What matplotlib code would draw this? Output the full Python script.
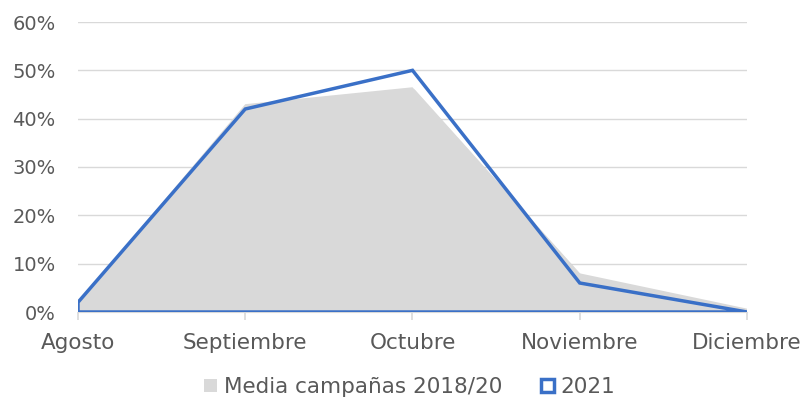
import matplotlib
matplotlib.use("Agg")
import matplotlib.pyplot as plt
from matplotlib.patches import Patch
import matplotlib.patheffects as pe

categories = ["Agosto", "Septiembre", "Octubre", "Noviembre", "Diciembre"]
media = [0.02, 0.43, 0.465, 0.08, 0.007]
y2021 = [0.02, 0.42, 0.50, 0.06, 0.0]
yticks = [0, 0.1, 0.2, 0.3, 0.4, 0.5, 0.6]

plt.rcParams['font.family'] = ['DejaVu Sans']
txt = '#595959'
fig = plt.figure(figsize=(8.03, 4.01), dpi=100)
ax = fig.add_axes([78/803, 1-312/401, (747-78)/803, (312-22)/401])

x = list(range(len(categories)))
ax.fill_between(x, media, 0, facecolor='#d9d9d9', edgecolor='none', zorder=2,
                path_effects=[pe.SimplePatchShadow(offset=(1.5, -1.5), shadow_rgbFace='#bfbfbf', alpha=0.5), pe.Normal()])
ax.fill_between(x, y2021, 0, facecolor='none', edgecolor='#3a70c7', linewidth=2.5, zorder=3, joinstyle='miter')

ax.set_xlim(0, len(categories)-1)
ax.set_ylim(0, 0.6)
ax.set_yticks(yticks)
ax.set_yticklabels([f"{int(round(v*100))}%" for v in yticks], fontsize=14, color=txt)
ax.set_xticks(x)
ax.set_xticklabels(categories, fontsize=15.5, color=txt)
ax.yaxis.grid(True, color='#d9d9d9', linewidth=1.0, zorder=0)
ax.set_axisbelow(True)
for s in ['top', 'right', 'left']:
    ax.spines[s].set_visible(False)
ax.spines['bottom'].set_color('#d9d9d9')
ax.tick_params(axis='y', length=0, pad=16)
ax.tick_params(axis='x', length=6, color='#d9d9d9', width=1.2, pad=9)

handles = [Patch(facecolor='#d9d9d9', edgecolor='none', label='Media campañas 2018/20'),
           Patch(facecolor='white', edgecolor='#3a70c7', linewidth=2.5, label='2021')]
leg = fig.legend(handles=handles, loc='center', bbox_to_anchor=(0.51, 1-387/401), ncol=2,
                 frameon=False, fontsize=15.5, handlelength=0.6, handleheight=0.6,
                 handletextpad=0.3, columnspacing=1.8)
for t in leg.get_texts():
    t.set_color(txt)

fig.savefig("out.png", dpi=100)
